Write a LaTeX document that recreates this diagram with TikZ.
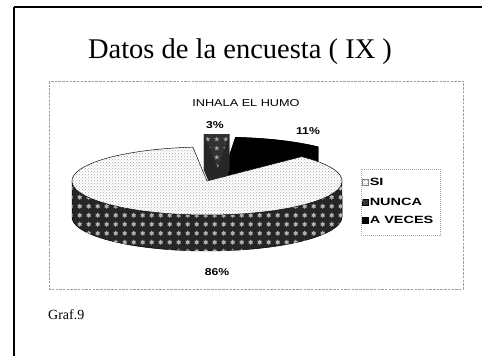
\documentclass[tikz,border=0pt]{standalone}
\usepackage{fontspec}
\setmainfont{Liberation Serif}
\newfontfamily\arialf{Liberation Sans}
\usetikzlibrary{patterns}
\begin{document}
\begin{tikzpicture}[x=1pt,y=-1pt,
  frameline/.style={black},
  chartbox/.style={draw=gray!75,dash pattern=on 2.5pt off 1.2pt,line width=0.6pt},
  legbox/.style={draw=gray!70,dash pattern=on 1pt off 1pt,line width=0.5pt},
  pct/.style={font=\arialf\bfseries\fontsize{10}{12}\selectfont,xscale=1.22},
  ctitle/.style={font=\arialf\fontsize{10}{12}\selectfont,xscale=1.27},
  legtext/.style={font=\arialf\bfseries\fontsize{10.5}{12}\selectfont,xscale=1.38,anchor=west,inner sep=0pt},
  sitop/.style={fill=white,postaction={pattern=crosshatch dots,pattern color=gray!70}},
  siside/.style={fill=black!85,postaction={pattern=sixpointed stars,pattern color=gray!60}},
  nuncatop/.style={fill=black!80,postaction={pattern=fivepointed stars,pattern color=gray!70}},
  nuncasolid/.style={fill=black!85},
  avsolid/.style={fill=black},
  outline/.style={draw=black,line width=0.5pt},
  legmark/.style={minimum size=6pt,inner sep=0pt,draw=black,line width=0.4pt}
]
\useasboundingbox (0,0) rectangle (483,356);
\fill[white] (0,0) rectangle (483,356);
% frame
\coordinate (ftl) at (14,7);
\coordinate (ftr) at (482,7);
\coordinate (fbl) at (14,356);
\draw[frameline,line width=1.6pt] (ftl) -- (ftr);
\draw[frameline,line width=2.6pt] (ftl) -- (fbl);
% title
\node[anchor=base,font=\fontsize{28.5}{30}\selectfont,inner sep=0pt] (title) at (240,58) {Datos de la encuesta ( IX )};
% chart box
\draw[chartbox] (49,81) rectangle (463,289);
\node[ctitle] (ctit) at (246,103) {INHALA EL HUMO};
% pie geometry
\def\cx{207}\def\cy{181}\def\rx{135}\def\ry{34}\def\dd{36}
\newcommand\solidslice[5]{%
  \fill[#5] ({\cx+#3},{\cy+#4}) -- ({\cx+#3+\rx*cos(#1)},{\cy+#4-\ry*sin(#1)}) -- ({\cx+#3+\rx*cos(#1)},{\cy+#4+\dd-\ry*sin(#1)}) -- ({\cx+#3},{\cy+#4+\dd}) -- cycle;
  \fill[#5] ({\cx+#3},{\cy+#4}) -- ({\cx+#3+\rx*cos(#2)},{\cy+#4-\ry*sin(#2)}) -- ({\cx+#3+\rx*cos(#2)},{\cy+#4+\dd-\ry*sin(#2)}) -- ({\cx+#3},{\cy+#4+\dd}) -- cycle;
  \fill[#5] plot[domain=#1:#2,samples=30] ({\cx+#3+\rx*cos(\x)},{\cy+#4-\ry*sin(\x)}) -- plot[domain=#2:#1,samples=30] ({\cx+#3+\rx*cos(\x)},{\cy+#4+\dd-\ry*sin(\x)}) -- cycle;
  \fill[#5] ({\cx+#3},{\cy+#4}) -- plot[domain=#1:#2,samples=30] ({\cx+#3+\rx*cos(\x)},{\cy+#4-\ry*sin(\x)}) -- cycle;
}
% A VECES (exploded)
\solidslice{45.6}{85.2}{17}{-10}{avsolid}
% NUNCA (exploded)
\solidslice{85.2}{96}{11}{-13}{nuncasolid}
\path[nuncatop] ({\cx+11},{\cy-13}) -- plot[domain=85.2:96,samples=10] ({\cx+11+\rx*cos(\x)},{\cy-13-\ry*sin(\x)}) -- cycle;
% SI side
\path[siside,outline] plot[domain=180:360,samples=80] ({\cx+\rx*cos(\x)},{\cy-\ry*sin(\x)}) -- plot[domain=360:180,samples=80] ({\cx+\rx*cos(\x)},{\cy+\dd-\ry*sin(\x)}) -- cycle;
% SI top
\path[sitop,outline] (\cx,\cy) -- plot[domain=96:405.6,samples=160] ({\cx+\rx*cos(\x)},{\cy-\ry*sin(\x)}) -- cycle;
% labels
\node[pct] (p3) at (215,125) {3\%};
\node[pct] (p11) at (308,131) {11\%};
\node[pct] (p86) at (217,272) {86\%};
% legend
\draw[legbox] (361,169) rectangle (440,235);
\node[legmark,sitop,draw=gray] (m1) at (365,182) {};
\node[legmark,nuncatop] (m2) at (365,202) {};
\node[legmark,fill=black] (m3) at (365,220) {};
\node[legtext] (l1) at (369.5,182) {SI};
\node[legtext] (l2) at (369.5,202) {NUNCA};
\node[legtext] (l3) at (369.5,220) {A VECES};
% footer
\node[anchor=base west,font=\fontsize{14}{16}\selectfont,inner sep=0pt] (graf) at (48,319) {Graf.9};
\end{tikzpicture}
\end{document}
